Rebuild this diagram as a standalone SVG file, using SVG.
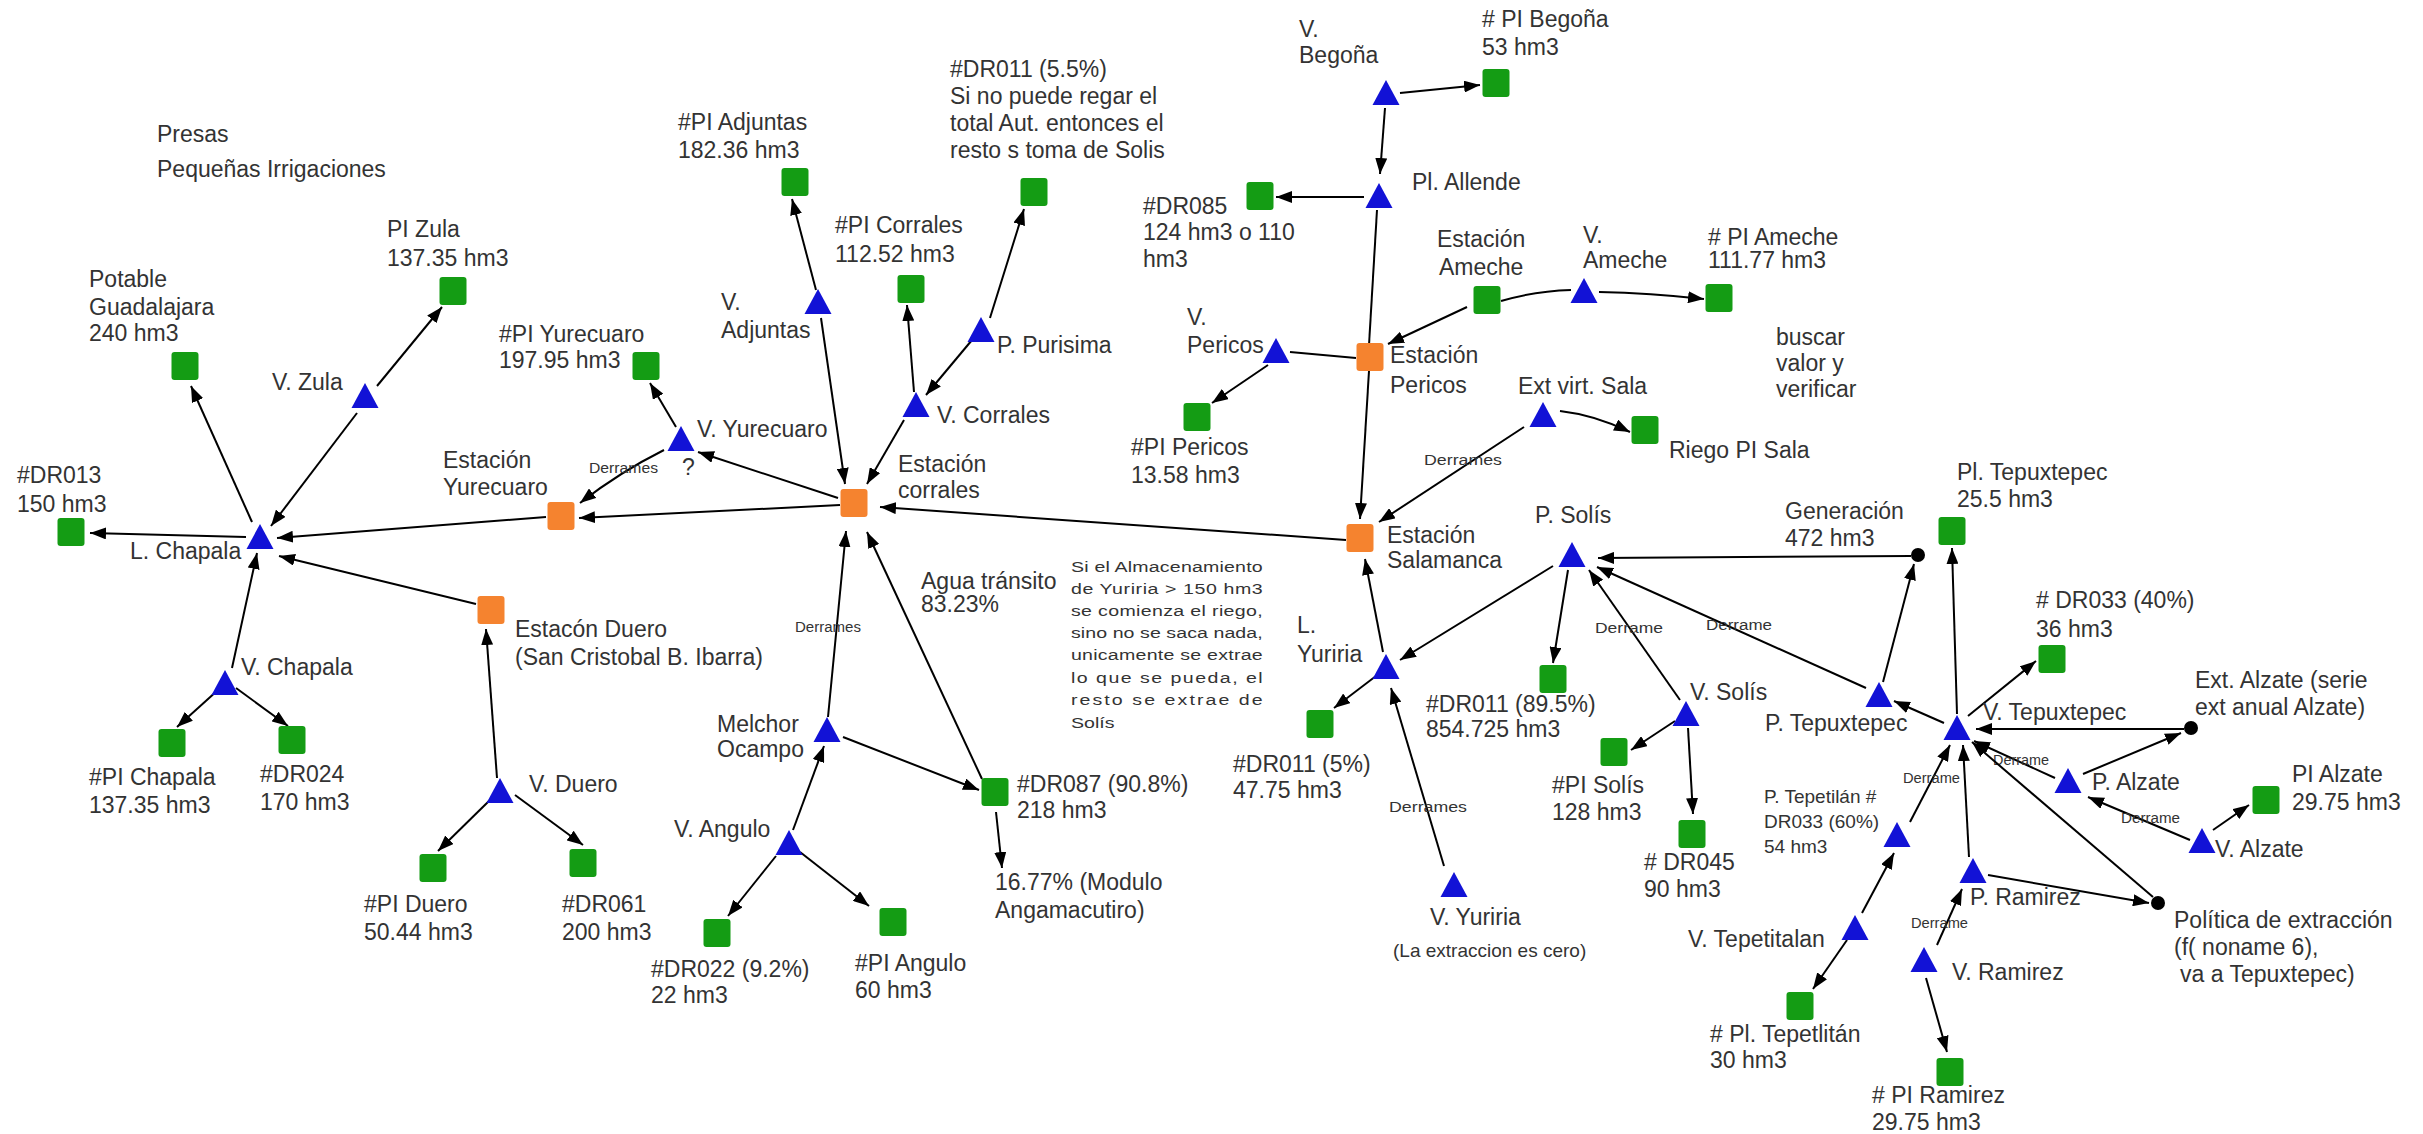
<svg xmlns="http://www.w3.org/2000/svg" xmlns:xlink="http://www.w3.org/1999/xlink" width="2423" height="1134" viewBox="0 0 2423 1134">
<style>
.g{fill:#149c14}
.o{fill:#f5832f}
.t{fill:#1212d6}
.d{fill:#000}
text{font-family:"Liberation Sans",Arial,sans-serif;font-size:23px;fill:#333}
.sm{font-size:14px}
.md{font-size:19px}
.nt{font-size:14.5px}
.e{stroke:#000;stroke-width:2;fill:none}
.a{marker-end:url(#ah)}
</style>
<defs>
<marker id="ah" viewBox="0 0 16 12" refX="16" refY="6" markerWidth="16" markerHeight="12" markerUnits="userSpaceOnUse" orient="auto"><path d="M0,0 L16,6 L0,12 z" fill="#000"/></marker>
<rect id="sq" x="-13.5" y="-14" width="27" height="28" rx="3"/>
<path id="tri" d="M0,-13 L13.5,12 L-13.5,12 Z"/>
</defs>
<rect width="2423" height="1134" fill="#fff"/>

<g id="legend">
<text x="157" y="142">Presas</text>
<text x="157" y="177">Pequeñas Irrigaciones</text>
</g>

<g id="connectors">
<path class="e a" d="M252,522 L191,386"/>
<path class="e a" d="M357,413 L271,526"/>
<path class="e a" d="M377,386 L442,307"/>
<path class="e a" d="M246,537 L90,533"/>
<path class="e a" d="M546,517 L277,538"/>
<path class="e a" d="M476,604 L279,556"/>
<path class="e a" d="M232,668 L257,553"/>
<path class="e a" d="M218,690 L177,727"/>
<path class="e a" d="M236,688 L288,726"/>
<path class="e a" d="M497,778 L486,629"/>
<path class="e a" d="M490,800 L438,851"/>
<path class="e a" d="M515,795 L583,845"/>
<path class="e a" d="M840,505 L579,518"/>
<path class="e a" d="M838,498 L698,452"/>
<path class="e a" d="M664,450 Q620,472 580,503"/>
<text class="sm" x="589" y="473" textLength="69" lengthAdjust="spacingAndGlyphs">Derrames</text>
<path class="e a" d="M676,427 L650,383"/>
<path class="e a" d="M816,290 L792,199"/>
<path class="e a" d="M821,318 L845,484"/>
<path class="e a" d="M914,392 L907,305"/>
<path class="e a" d="M904,420 L867,484"/>
<path class="e a" d="M972,340 L926,395"/>
<path class="e a" d="M990,318 L1024,209"/>
<path class="e a" d="M1346,540 L880,507"/>
<path class="e a" d="M828,717 L846,531"/>
<text class="sm" x="795" y="632" textLength="66" lengthAdjust="spacingAndGlyphs">Derrames</text>
<path class="e a" d="M982,779 L867,532"/>
<text x="921" y="589">Agua tránsito</text>
<text x="921" y="612">83.23%</text>
<path class="e a" d="M843,737 L979,790"/>
<path class="e a" d="M793,830 L824,746"/>
<path class="e a" d="M776,856 L728,916"/>
<path class="e a" d="M800,852 L869,906"/>
<path class="e a" d="M996,812 L1002,868"/>

<path class="e a" d="M1400,93 L1480,85"/>
<path class="e a" d="M1385,108 L1380,174"/>
<path class="e a" d="M1364,197 L1276,197"/>
<path class="e" d="M1369,345 L1377,210"/>
<path class="e" d="M1290,352 L1356,358"/>
<path class="e a" d="M1268,365 L1212,403"/>
<path class="e a" d="M1467,307 L1388,344"/>
<path class="e" d="M1501,301 Q1535,291 1571,290"/>
<path class="e a" d="M1599,292 Q1650,293 1704,299"/>
<path class="e a" d="M1369,371 L1360,519"/>
<path class="e a" d="M1524,427 L1379,522"/>
<text class="sm" x="1424" y="465" textLength="78" lengthAdjust="spacingAndGlyphs">Derrames</text>
<path class="e a" d="M1560,411 Q1595,415 1630,432"/>
<path class="e a" d="M1383,652 L1365,559"/>
<path class="e a" d="M1553,566 L1400,660"/>
<path class="e a" d="M1568,570 L1553,663"/>
<path class="e a" d="M1680,700 L1589,570"/>
<text class="sm" x="1595" y="633" textLength="68" lengthAdjust="spacingAndGlyphs">Derrame</text>
<path class="e a" d="M1866,688 L1597,567"/>
<text class="sm" x="1706" y="630" textLength="66" lengthAdjust="spacingAndGlyphs">Derrame</text>
<path class="e a" d="M1911,556 L1598,558"/>
<path class="e a" d="M1883,682 L1914,564"/>
<path class="e a" d="M1376,676 L1334,708"/>
<path class="e a" d="M1444,866 L1391,688"/>
<text class="sm" x="1389" y="812" textLength="78" lengthAdjust="spacingAndGlyphs">Derrames</text>
<path class="e a" d="M1675,721 L1631,750"/>
<path class="e a" d="M1688,728 L1693,814"/>

<path class="e a" d="M1957,714 L1952,548"/>
<path class="e a" d="M1944,723 L1894,701"/>
<path class="e a" d="M1968,716 L2036,661"/>
<path class="e a" d="M2184,729 L1976,729"/>
<path class="e a" d="M2083,774 L2181,733"/>
<path class="e a" d="M2055,778 L1974,741"/>
<text class="sm" x="1993" y="765" textLength="56" lengthAdjust="spacingAndGlyphs">Derrame</text>
<path class="e a" d="M2190,840 L2088,797"/>
<text class="sm" x="2121" y="823" textLength="59" lengthAdjust="spacingAndGlyphs">Derrame</text>
<path class="e a" d="M2213,830 L2249,805"/>
<path class="e a" d="M2153,897 L1972,742"/>
<path class="e a" d="M1988,875 L2149,903"/>
<path class="e a" d="M1969,857 L1963,745"/>
<path class="e a" d="M1910,822 L1950,745"/>
<text class="sm" x="1903" y="783" textLength="57" lengthAdjust="spacingAndGlyphs">Derrame</text>
<path class="e a" d="M1862,913 L1894,853"/>
<path class="e a" d="M1847,940 L1813,989"/>
<path class="e a" d="M1937,945 L1962,889"/>
<text class="sm" x="1911" y="928" textLength="57" lengthAdjust="spacingAndGlyphs">Derrame</text>
<path class="e a" d="M1926,978 L1947,1052"/>
</g>

<g id="n-pi-zula"><use href="#sq" class="g" x="453" y="291"/><text x="387" y="237">PI Zula</text><text x="387" y="266">137.35 hm3</text></g>
<g id="n-potable"><use href="#sq" class="g" x="185" y="366"/><text x="89" y="287">Potable</text><text x="89" y="315">Guadalajara</text><text x="89" y="341">240 hm3</text></g>
<g id="n-v-zula"><use href="#tri" class="t" x="365" y="396"/><text x="272" y="390">V. Zula</text></g>
<g id="n-l-chapala"><use href="#tri" class="t" x="260" y="537"/><text x="130" y="559">L. Chapala</text></g>
<g id="n-dr013"><use href="#sq" class="g" x="71" y="532"/><text x="17" y="483">#DR013</text><text x="17" y="512">150 hm3</text></g>
<g id="n-est-yurecuaro"><use href="#sq" class="o" x="561" y="516"/><text x="443" y="468">Estación</text><text x="443" y="495">Yurecuaro</text></g>
<g id="n-est-duero"><use href="#sq" class="o" x="491" y="610"/><text x="515" y="637">Estacón Duero</text><text x="515" y="665">(San Cristobal B. Ibarra)</text></g>
<g id="n-v-chapala"><use href="#tri" class="t" x="225" y="683"/><text x="241" y="675">V. Chapala</text></g>
<g id="n-pi-chapala"><use href="#sq" class="g" x="172" y="743"/><text x="89" y="785">#PI Chapala</text><text x="89" y="813">137.35 hm3</text></g>
<g id="n-dr024"><use href="#sq" class="g" x="292" y="740"/><text x="260" y="782">#DR024</text><text x="260" y="810">170 hm3</text></g>
<g id="n-v-duero"><use href="#tri" class="t" x="500" y="791"/><text x="529" y="792">V. Duero</text></g>
<g id="n-pi-duero"><use href="#sq" class="g" x="433" y="868"/><text x="364" y="912">#PI Duero</text><text x="364" y="940">50.44 hm3</text></g>
<g id="n-dr061"><use href="#sq" class="g" x="583" y="863"/><text x="562" y="912">#DR061</text><text x="562" y="940">200 hm3</text></g>
<g id="n-pi-yurecuaro"><use href="#sq" class="g" x="646" y="366"/><text x="499" y="342">#PI Yurecuaro</text><text x="499" y="368">197.95 hm3</text></g>
<g id="n-v-yurecuaro"><use href="#tri" class="t" x="681" y="439"/><text x="697" y="437">V. Yurecuaro</text><text x="682" y="475">?</text></g>
<g id="n-pi-adjuntas"><use href="#sq" class="g" x="795" y="182"/><text x="678" y="130">#PI Adjuntas</text><text x="678" y="158">182.36 hm3</text></g>
<g id="n-v-adjuntas"><use href="#tri" class="t" x="818" y="302"/><text x="721" y="310">V.</text><text x="721" y="338">Adjuntas</text></g>
<g id="n-pi-corrales"><use href="#sq" class="g" x="911" y="289"/><text x="835" y="233">#PI Corrales</text><text x="835" y="262">112.52 hm3</text></g>
<g id="n-dr011-55"><use href="#sq" class="g" x="1034" y="192"/><text x="950" y="77">#DR011 (5.5%)</text><text x="950" y="104">Si no puede regar el</text><text x="950" y="131">total Aut. entonces el</text><text x="950" y="158">resto s toma de Solis</text></g>
<g id="n-p-purisima"><use href="#tri" class="t" x="981" y="330"/><text x="997" y="353">P. Purisima</text></g>
<g id="n-v-corrales"><use href="#tri" class="t" x="916" y="405"/><text x="937" y="423">V. Corrales</text></g>
<g id="n-est-corrales"><use href="#sq" class="o" x="854" y="503"/><text x="898" y="472">Estación</text><text x="898" y="498">corrales</text></g>
<g id="n-melchor"><use href="#tri" class="t" x="827" y="730"/><text x="717" y="732">Melchor</text><text x="717" y="757">Ocampo</text></g>
<g id="n-dr087"><use href="#sq" class="g" x="995" y="792"/><text x="1017" y="792">#DR087 (90.8%)</text><text x="1017" y="818">218 hm3</text></g>
<g id="n-modulo"><text x="995" y="890">16.77% (Modulo</text><text x="995" y="918">Angamacutiro)</text></g>
<g id="n-v-angulo"><use href="#tri" class="t" x="789" y="843"/><text x="674" y="837">V. Angulo</text></g>
<g id="n-dr022"><use href="#sq" class="g" x="717" y="933"/><text x="651" y="977">#DR022 (9.2%)</text><text x="651" y="1003">22 hm3</text></g>
<g id="n-pi-angulo"><use href="#sq" class="g" x="893" y="922"/><text x="855" y="971">#PI Angulo</text><text x="855" y="998">60 hm3</text></g>
<g id="note-yuriria" transform="translate(1071,0) scale(1.35,1)">
<text class="nt" x="0" y="572" textLength="142" lengthAdjust="spacing">Si el Almacenamiento</text>
<text class="nt" x="0" y="594" textLength="142" lengthAdjust="spacing">de Yuriria &gt; 150 hm3</text>
<text class="nt" x="0" y="616" textLength="142" lengthAdjust="spacing">se comienza el riego,</text>
<text class="nt" x="0" y="638" textLength="142" lengthAdjust="spacing">sino no se saca nada,</text>
<text class="nt" x="0" y="660" textLength="142" lengthAdjust="spacing">unicamente se extrae</text>
<text class="nt" x="0" y="683" textLength="142" lengthAdjust="spacing">lo que se pueda, el</text>
<text class="nt" x="0" y="705" textLength="142" lengthAdjust="spacing">resto se extrae de</text>
<text class="nt" x="0" y="728">Solís</text>
</g>

<g id="n-v-begona"><use href="#tri" class="t" x="1386" y="93"/><text x="1299" y="37">V.</text><text x="1299" y="63">Begoña</text></g>
<g id="n-pi-begona"><use href="#sq" class="g" x="1496" y="83"/><text x="1482" y="27"># PI Begoña</text><text x="1482" y="55">53 hm3</text></g>
<g id="n-allende"><use href="#tri" class="t" x="1379" y="196"/><text x="1412" y="190">Pl. Allende</text></g>
<g id="n-dr085"><use href="#sq" class="g" x="1260" y="196"/><text x="1143" y="214">#DR085</text><text x="1143" y="240">124 hm3 o 110</text><text x="1143" y="267">hm3</text></g>
<g id="n-est-ameche"><use href="#sq" class="g" x="1487" y="300"/><text x="1437" y="247">Estación</text><text x="1439" y="275">Ameche</text></g>
<g id="n-v-ameche"><use href="#tri" class="t" x="1584" y="291"/><text x="1583" y="243">V.</text><text x="1583" y="268">Ameche</text></g>
<g id="n-pi-ameche"><use href="#sq" class="g" x="1719" y="298"/><text x="1708" y="245"># PI Ameche</text><text x="1708" y="268">111.77 hm3</text></g>
<g id="n-buscar"><text x="1776" y="345">buscar</text><text x="1776" y="371">valor y</text><text x="1776" y="397">verificar</text></g>
<g id="n-est-pericos"><use href="#sq" class="o" x="1370" y="357"/><text x="1390" y="363">Estación</text><text x="1390" y="393">Pericos</text></g>
<g id="n-v-pericos"><use href="#tri" class="t" x="1276" y="351"/><text x="1187" y="325">V.</text><text x="1187" y="353">Pericos</text></g>
<g id="n-pi-pericos"><use href="#sq" class="g" x="1197" y="417"/><text x="1131" y="455">#PI Pericos</text><text x="1131" y="483">13.58 hm3</text></g>
<g id="n-ext-sala"><use href="#tri" class="t" x="1543" y="415"/><text x="1518" y="394">Ext virt. Sala</text></g>
<g id="n-riego-sala"><use href="#sq" class="g" x="1645" y="430"/><text x="1669" y="458">Riego PI Sala</text></g>
<g id="n-est-salamanca"><use href="#sq" class="o" x="1360" y="538"/><text x="1387" y="543">Estación</text><text x="1387" y="568">Salamanca</text></g>
<g id="n-p-solis"><use href="#tri" class="t" x="1572" y="555"/><text x="1535" y="523">P. Solís</text></g>
<g id="n-l-yuriria"><use href="#tri" class="t" x="1386" y="667"/><text x="1297" y="633">L.</text><text x="1297" y="662">Yuriria</text></g>
<g id="n-dr011-895"><use href="#sq" class="g" x="1553" y="679"/><text x="1426" y="712">#DR011 (89.5%)</text><text x="1426" y="737">854.725 hm3</text></g>
<g id="n-dr011-5"><use href="#sq" class="g" x="1320" y="724"/><text x="1233" y="772">#DR011 (5%)</text><text x="1233" y="798">47.75 hm3</text></g>
<g id="n-v-yuriria"><use href="#tri" class="t" x="1454" y="885"/><text x="1430" y="925">V. Yuriria</text><text class="md" x="1393" y="957">(La extraccion es cero)</text></g>
<g id="n-v-solis"><use href="#tri" class="t" x="1686" y="714"/><text x="1690" y="700">V. Solís</text></g>
<g id="n-pi-solis"><use href="#sq" class="g" x="1614" y="752"/><text x="1552" y="793">#PI Solís</text><text x="1552" y="820">128 hm3</text></g>
<g id="n-dr045"><use href="#sq" class="g" x="1692" y="834"/><text x="1644" y="870"># DR045</text><text x="1644" y="897">90 hm3</text></g>
<g id="n-generacion"><circle class="d" cx="1918" cy="555" r="7"/><text x="1785" y="519">Generación</text><text x="1785" y="546">472 hm3</text></g>
<g id="n-pl-tepux"><use href="#sq" class="g" x="1952" y="531"/><text x="1957" y="480">Pl. Tepuxtepec</text><text x="1957" y="507">25.5 hm3</text></g>
<g id="n-dr033-40"><use href="#sq" class="g" x="2052" y="659"/><text x="2036" y="608"># DR033 (40%)</text><text x="2036" y="637">36 hm3</text></g>
<g id="n-ext-alzate"><circle class="d" cx="2191" cy="728" r="7"/><text x="2195" y="688">Ext. Alzate (serie</text><text x="2195" y="715">ext anual Alzate)</text></g>
<g id="n-p-tepux"><use href="#tri" class="t" x="1879" y="695"/><text x="1765" y="731">P. Tepuxtepec</text></g>
<g id="n-v-tepux"><use href="#tri" class="t" x="1957" y="728"/><text x="1983" y="720">V. Tepuxtepec</text></g>
<g id="n-p-alzate"><use href="#tri" class="t" x="2068" y="781"/><text x="2092" y="790">P. Alzate</text></g>
<g id="n-pi-alzate"><use href="#sq" class="g" x="2266" y="800"/><text x="2292" y="782">PI Alzate</text><text x="2292" y="810">29.75 hm3</text></g>
<g id="n-v-alzate"><use href="#tri" class="t" x="2202" y="841"/><text x="2215" y="857">V. Alzate</text></g>
<g id="n-p-tepetilan"><use href="#tri" class="t" x="1897" y="835"/><text class="md" x="1764" y="803">P. Tepetilán #</text><text class="md" x="1764" y="828">DR033 (60%)</text><text class="md" x="1764" y="853">54 hm3</text></g>
<g id="n-p-ramirez"><use href="#tri" class="t" x="1973" y="871"/><text x="1970" y="905">P. Ramirez</text></g>
<g id="n-politica"><circle class="d" cx="2158" cy="903" r="7"/><text x="2174" y="928">Política de extracción</text><text x="2174" y="955">(f( noname 6),</text><text x="2180" y="982">va a Tepuxtepec)</text></g>
<g id="n-v-tepetitalan"><use href="#tri" class="t" x="1855" y="928"/><text x="1688" y="947">V. Tepetitalan</text></g>
<g id="n-v-ramirez"><use href="#tri" class="t" x="1924" y="960"/><text x="1952" y="980">V. Ramirez</text></g>
<g id="n-pi-ramirez"><use href="#sq" class="g" x="1950" y="1072"/><text x="1872" y="1103"># PI Ramirez</text><text x="1872" y="1130">29.75 hm3</text></g>
<g id="n-pi-tepetlitan"><use href="#sq" class="g" x="1800" y="1006"/><text x="1710" y="1042"># Pl. Tepetlitán</text><text x="1710" y="1068">30 hm3</text></g>
</svg>
